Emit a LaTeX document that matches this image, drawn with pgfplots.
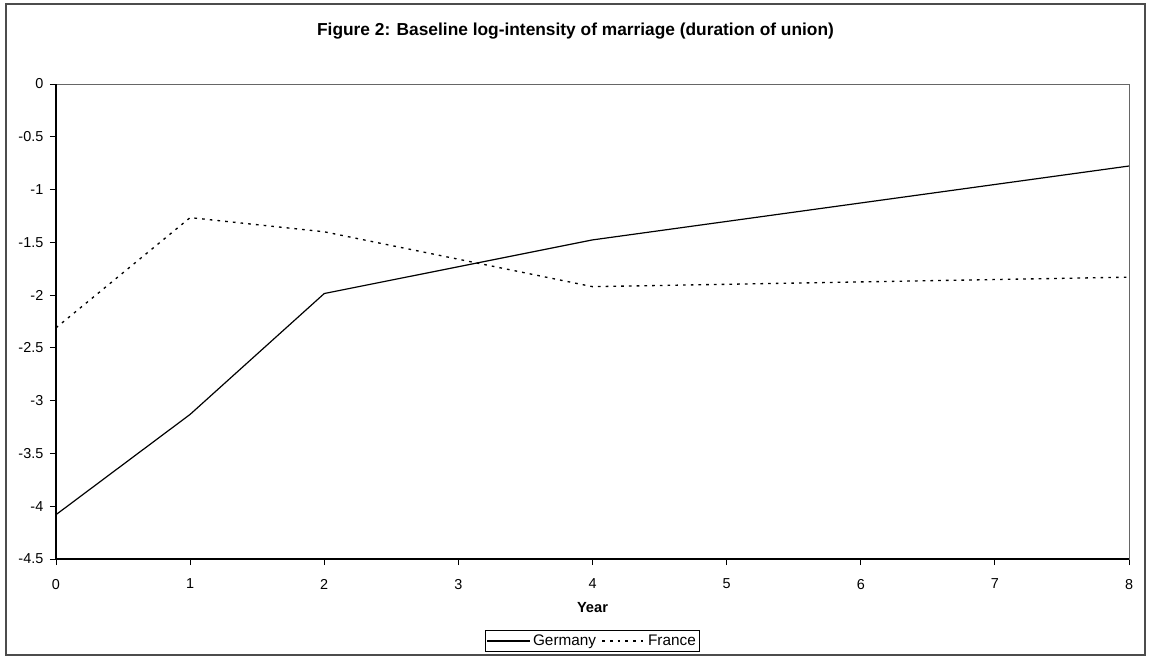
\documentclass[border=0pt]{standalone}
\usepackage{pgfplots}
\pgfplotsset{compat=1.18}
\usepackage{fontspec}
\setmainfont{Liberation Sans}

\begin{document}
\begin{tikzpicture}[x=0.75pt,y=0.75pt]
  % canvas in pixel units (y measured from the bottom)
  \useasboundingbox (0,0) rectangle (1149,657);
  \fill[white] (0,0) rectangle (1149,657);
  % chart frame
  \draw[black!70, line width=1.5pt] (6,2) rectangle (1145,652.5);
  % title
  \node[anchor=base, font=\bfseries\fontsize{13}{15}\selectfont] at (575.5,621) {Figure 2: Baseline log-intensity of marriage (duration of union)};

  \begin{axis}[
    at={(42pt,73.5pt)}, anchor=south west,
    scale only axis,
    width=804.75pt, height=356.25pt,
    xmin=0, xmax=8, ymin=-4.5, ymax=0,
    xtick={0,1,...,8},
    ytick={-4.5,-4,...,0},
    yticklabels={-4.5,-4,-3.5,-3,-2.5,-2,-1.5,-1,-0.5,0},
    xtick pos=bottom, ytick pos=left,
    tick align=outside,
    major tick length=4.5pt,
    tick style={black, line width=0.6pt},
    axis line style={black!60, line width=0.6pt},
    /pgf/number format/assume math mode=true,
    ticklabel style={font=\fontsize{10.8}{12}\selectfont},
    xticklabel style={yshift=-7pt},
    yticklabel style={xshift=-1.5pt},
    xlabel={\textbf{Year}},
    xlabel style={font=\fontsize{11}{12}\selectfont, yshift=-3pt},
    legend style={at={(0.5,-0.1726)}, anchor=center, draw=black, line width=0.6pt,
      font=\fontsize{11.5}{13}\selectfont, inner sep=1pt,
      /tikz/every even column/.append style={column sep=2pt}},
    legend columns=2,
    legend cell align=left,
    legend image code/.code={\draw[#1] (0pt,0pt) -- (32pt,0pt);},
    clip=false,
  ]
    % axis lines on the left and bottom
    \draw[black, line width=1.2pt] (rel axis cs:0,1) -- (rel axis cs:0,0) -- (rel axis cs:1,0);

    \addplot[black, line width=0.9pt, mark=none] coordinates {
      (0,-4.08) (1,-3.13) (2,-1.985) (4,-1.477) (8,-0.777)
    };
    \addlegendentry{Germany}
    \addplot[black, line width=1pt, dash pattern=on 2pt off 3.8pt, mark=none] coordinates {
      (0,-2.31) (1,-1.266) (2,-1.40) (4,-1.92) (8,-1.83)
    };
    \addlegendentry{France}
  \end{axis}
\end{tikzpicture}
\end{document}
